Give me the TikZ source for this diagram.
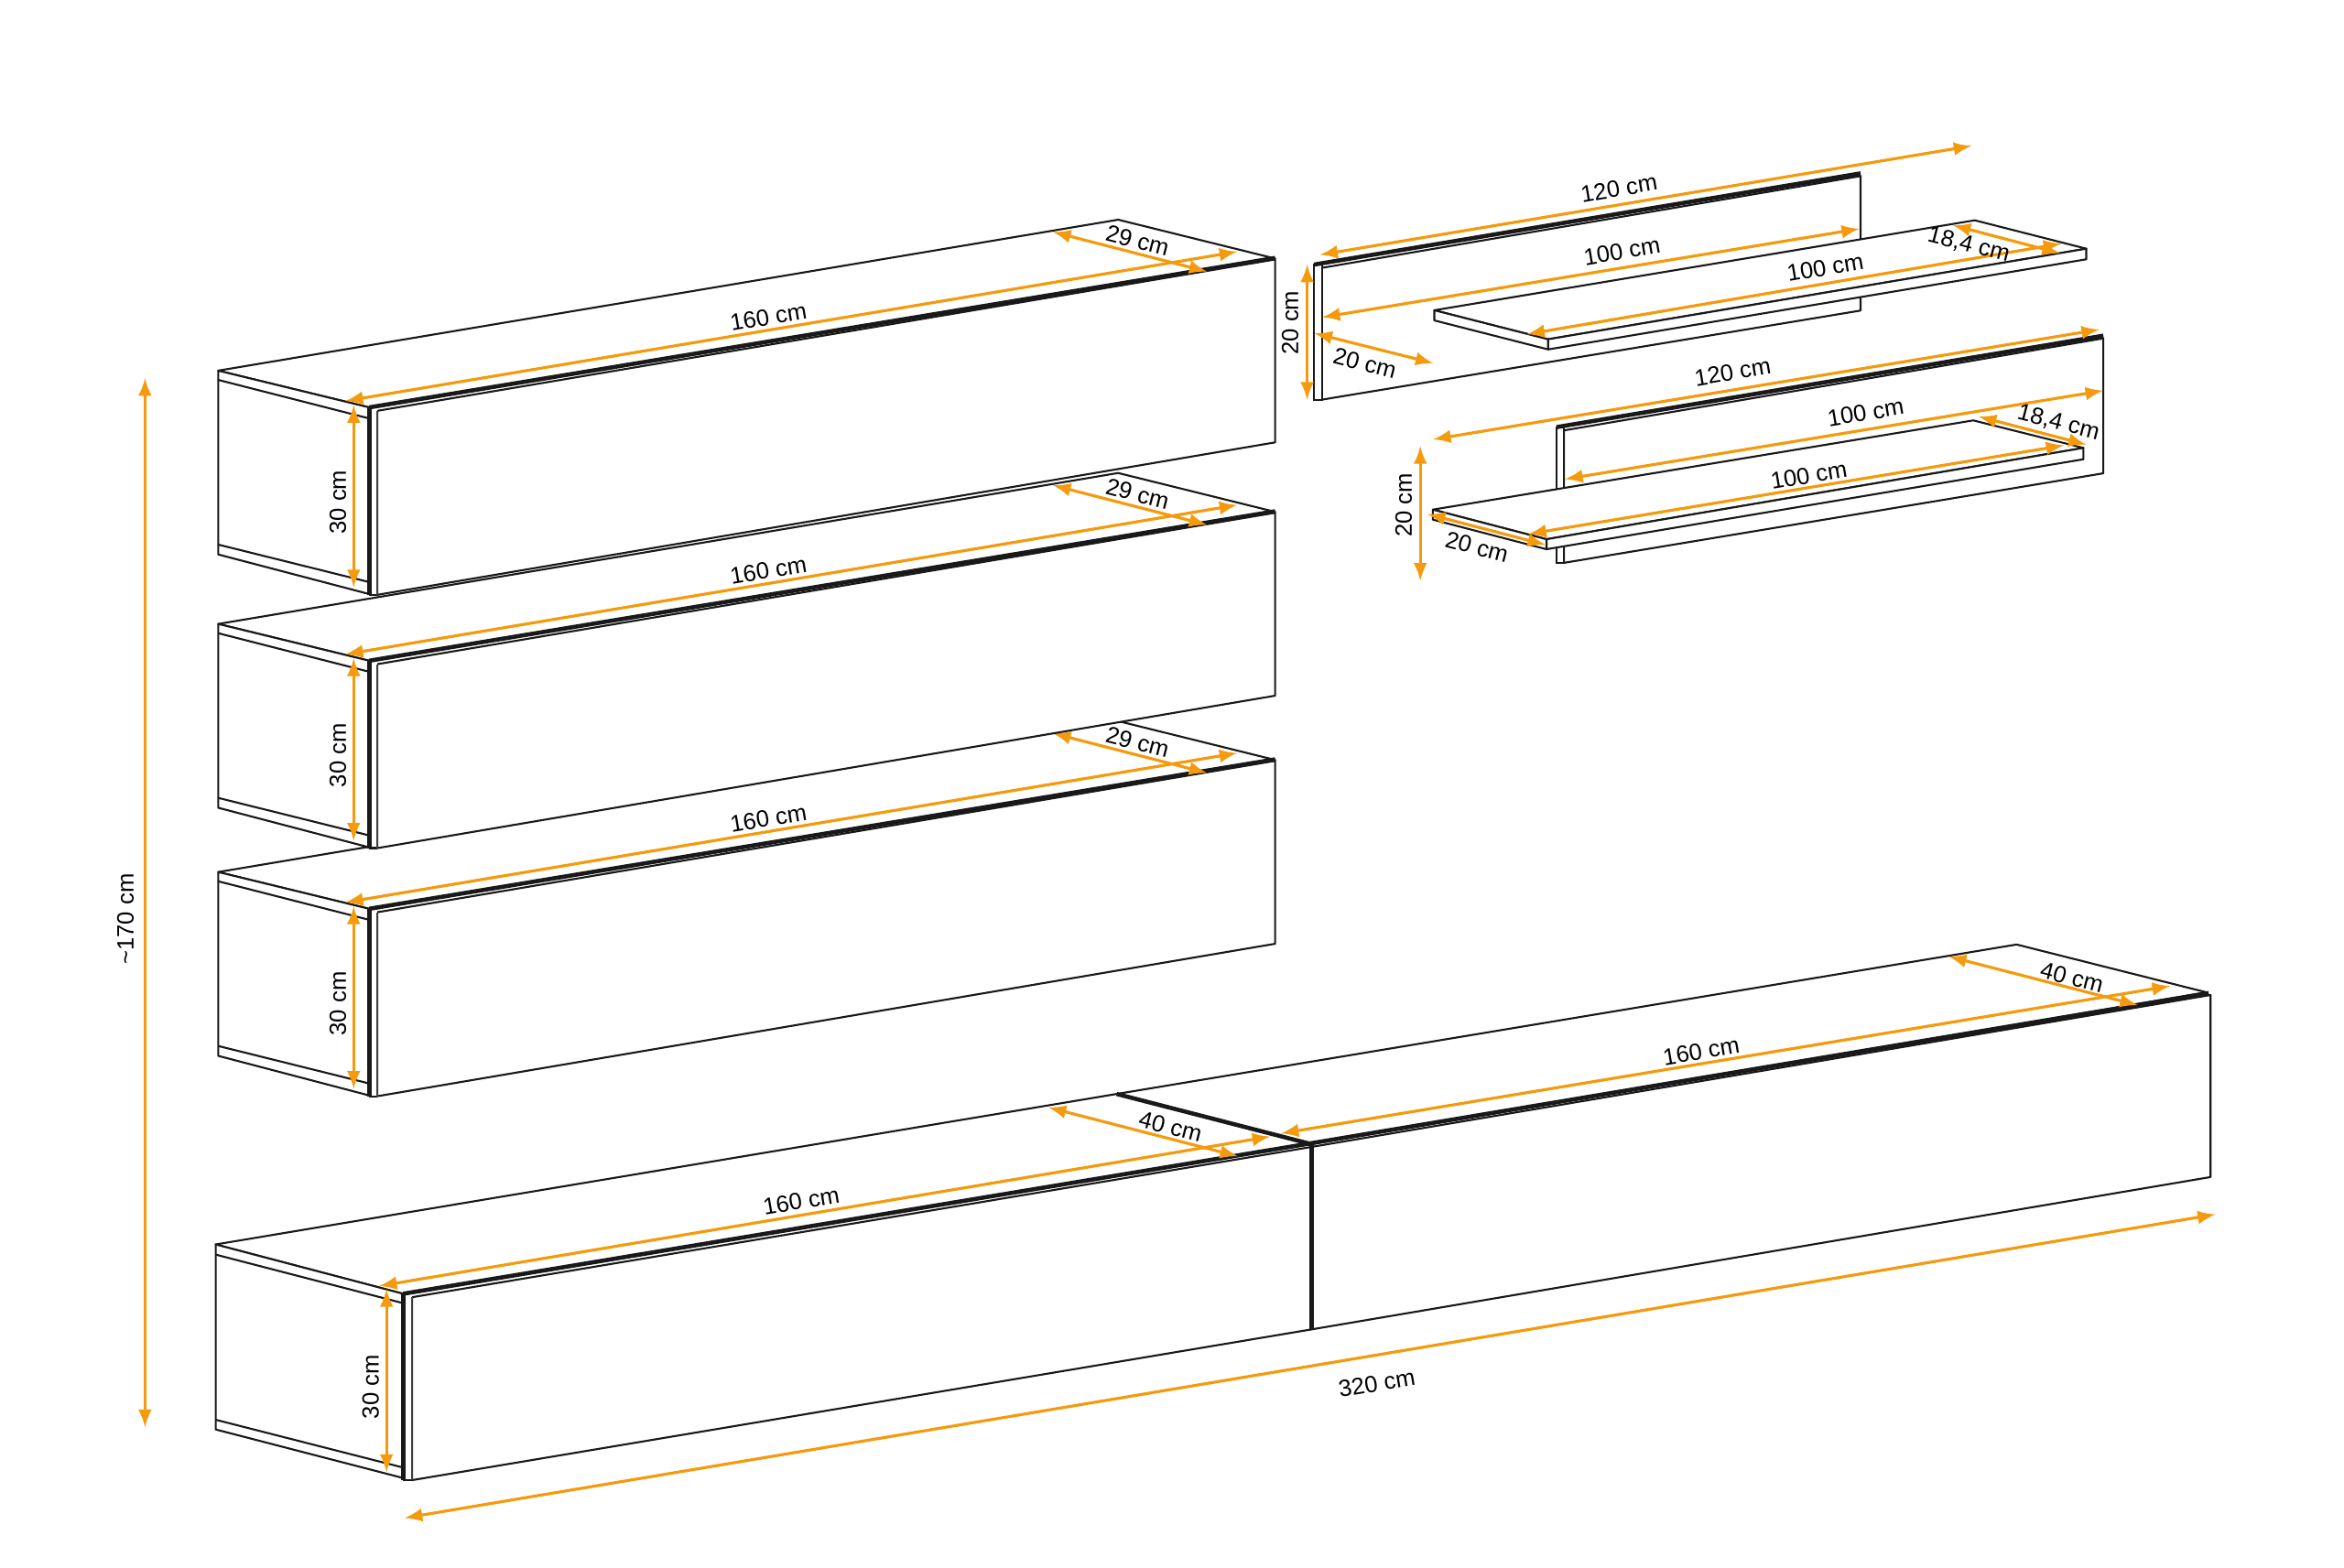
\documentclass[tikz,border=0pt]{standalone}
\usepackage{fontspec}
\setmainfont{Liberation Sans}
\begin{document}
\begin{tikzpicture}[x=0.016327cm,y=-0.016327cm]
% Styles
\tikzstyle{cadre}=[line width=0.6pt,black!90,line join=round,fill=white]
\tikzstyle{trait}=[line width=0.6pt,black!90]
\tikzstyle{arete}=[line width=1.3pt,black!90]
\tikzstyle{liseret}=[line width=0.6pt,black!75]
\tikzstyle{fleche}=[<->,>=latex,line width=0.9pt,color=cote]
\tikzstyle{etiquette}=[font=\fontsize{7.3}{9}\selectfont,inner sep=0pt,text=black]
\definecolor{cote}{HTML}{F59A0C}
% Angles des textes
\def\Long{9.6}
\def\Prof{-14.5}
% Cadre de l'image
\useasboundingbox (0,0) rectangle (1568,1048.6);
% Caisson suspendu : nom, décalage vertical
\def\Caisson#1#2{
\begin{scope}[shift={(0,#2)}]
\draw[cadre] (146,248) -- (748,147) -- (853,173) -- (247,272.6) -- cycle;
\draw[cadre] (146,248) -- (146,371) -- (247,397.5) -- (247,272.6) -- cycle;
\draw[trait] (146,254.2) -- (247,280);
\draw[trait] (146,364.4) -- (247,389.5);
\draw[cadre] (252.4,274.9) -- (853,173.6) -- (853,296) -- (252.4,398) -- cycle;
\fill[white] (247,272.6) rectangle (252.4,398);
\draw[trait] (247,398) -- (252.4,398);
\draw[arete] (247,272.6) -- (247,398);
\draw[liseret] (252.4,274.9) -- (252.4,398);
\draw[arete] (247,272.6) -- (853,172.6);
% Cotes
\draw[fleche] (231,268.3) -- (827.6,168.4);
\draw[fleche] (704.4,155.2) -- (807.4,181.7);
\draw[fleche] (236.6,271) -- (236.6,393);
\node[etiquette,rotate=\Long] (long#1) at (514,212) {160 cm};
\node[etiquette,rotate=\Prof] (prof#1) at (761,161) {29 cm};
\node[etiquette,rotate=90] (haut#1) at (226,336) {30 cm};
\end{scope}
}
% Caissons du mur
\Caisson{C}{335.5}
\Caisson{B}{169.5}
\Caisson{A}{0}
% Meuble bas : partie droite
\draw[cadre] (747,732) -- (1349,632) -- (1476,664) -- (877,765.5) -- cycle;
\draw[cadre] (877,767.5) -- (1478.7,665.8) -- (1478.7,787.6) -- (877,889.6) -- cycle;
\draw[arete] (877,765) -- (1477.5,664.5);
% Meuble bas : partie gauche
\draw[cadre] (144.3,832.7) -- (747,732) -- (877,765.5) -- (269.7,865.7) -- cycle;
\draw[cadre] (144.3,832.7) -- (144.3,956.5) -- (269.7,989) -- (269.7,865.7) -- cycle;
\draw[trait] (144.3,839.5) -- (269.7,872);
\draw[trait] (144.3,950) -- (269.7,982);
\draw[cadre] (275.7,868) -- (877,767.5) -- (877,889.6) -- (275.7,990.4) -- cycle;
\fill[white] (269.7,865.7) rectangle (275.7,990.4);
\draw[trait] (269.7,990.4) -- (275.7,990.4);
\draw[arete] (269.7,865.7) -- (269.7,990.4);
\draw[liseret] (275.7,868) -- (275.7,990.4);
\draw[arete] (269.7,865.7) -- (877,765);
\draw[arete] (747,732) -- (877,765.5);
\draw[arete] (877.5,765.5) -- (877.5,889.6);
% Etagère du haut
\draw[cadre] (884.4,179.2) -- (1244.6,117.8) -- (1244.6,207.8) -- (884.4,267.4) -- cycle;
\fill[white] (879.2,177) rectangle (884.4,267.4);
\draw[trait] (879.2,177) rectangle (884.4,267.4);
\draw[arete] (879.2,177) -- (1244.6,116);
\draw[cadre] (959.5,207.6) -- (1321,147.4) -- (1395.6,166.4) -- (1035.6,227) -- cycle;
\draw[cadre] (1035.6,227) -- (1395.6,166.4) -- (1395.6,173.5) -- (1035.6,233.8) -- cycle;
\draw[cadre] (959.5,207.6) -- (1035.6,227) -- (1035.6,233.8) -- (959.5,214.4) -- cycle;
% Etagère du bas
\draw[cadre] (1046.2,288) -- (1407,226.4) -- (1407,316.7) -- (1046.2,376.6) -- cycle;
\fill[white] (1041.3,285.8) rectangle (1046.2,376.6);
\draw[trait] (1041.3,285.8) rectangle (1046.2,376.6);
\draw[arete] (1041.3,285.8) -- (1407,224.6);
\draw[cadre] (958.5,341) -- (1320,281.3) -- (1393.7,299.7) -- (1034.5,360.8) -- cycle;
\draw[cadre] (1034.5,360.8) -- (1393.7,299.7) -- (1393.7,307.3) -- (1034.5,367.5) -- cycle;
\draw[cadre] (958.5,341) -- (1034.5,360.8) -- (1034.5,367.5) -- (958.5,347.7) -- cycle;
% Cotes du meuble bas
\draw[fleche] (253.6,860.5) -- (849.6,760.5);
\draw[fleche] (701.3,741) -- (828,773.7);
\draw[fleche] (258.6,862.6) -- (258.6,985);
\draw[fleche] (270.7,1015.7) -- (1482,812.6);
\draw[fleche] (856.9,758.4) -- (1451.6,659.8);
\draw[fleche] (1303.5,640) -- (1430,672.6);
\draw[fleche] (97,253) -- (97,955);
% Cotes des étagères
\draw[fleche] (883,170.5) -- (1318.8,97.6);
\draw[fleche] (884.5,212.3) -- (1243.8,153.1);
\draw[fleche] (1021.4,223.6) -- (1378.8,163);
\draw[fleche] (1306.4,150.7) -- (1378,169.5);
\draw[fleche] (874.4,177) -- (874.4,267.5);
\draw[fleche] (879.3,223) -- (958.8,243);
\draw[fleche] (958.7,294) -- (1404.3,220.5);
\draw[fleche] (1046.9,320.6) -- (1406.9,261.4);
\draw[fleche] (1022.5,357.3) -- (1380.6,298);
\draw[fleche] (1323.6,278.7) -- (1395.6,297.5);
\draw[fleche] (950.1,298.5) -- (950.1,388.6);
\draw[fleche] (955,344) -- (1033.8,364.5);
% Textes du meuble bas
\node[etiquette,rotate=\Long] (longbg) at (536,803.5) {160 cm};
\node[etiquette,rotate=\Prof] (profbg) at (783,754) {40 cm};
\node[etiquette,rotate=\Long] (longbd) at (1138,703.5) {160 cm};
\node[etiquette,rotate=\Prof] (profbd) at (1386,654) {40 cm};
\node[etiquette,rotate=90] (hautb) at (248,928) {30 cm};
\node[etiquette,rotate=\Long] (total) at (921,925.5) {320 cm};
\node[etiquette,rotate=90] (hauteur) at (84,615) {\char126 170 cm};
% Textes des étagères
\node[etiquette,rotate=\Long] (panh) at (1083,126) {120 cm};
\node[etiquette,rotate=\Long] (intraH) at (1085,168) {100 cm};
\node[etiquette,rotate=\Long] (planh) at (1221,179) {100 cm};
\node[etiquette,rotate=\Prof] (profh) at (1317,164) {18,4 cm};
\node[etiquette,rotate=90] (verth) at (863,216) {20 cm};
\node[etiquette,rotate=\Prof] (fondh) at (913,243) {20 cm};
\node[etiquette,rotate=\Long] (panb) at (1159,249) {120 cm};
\node[etiquette,rotate=\Long] (intraB) at (1248,276) {100 cm};
\node[etiquette,rotate=\Long] (planb) at (1210,318) {100 cm};
\node[etiquette,rotate=\Prof] (profe) at (1377,283) {18,4 cm};
\node[etiquette,rotate=90] (vertb) at (939,338) {20 cm};
\node[etiquette,rotate=\Prof] (fondb) at (988,366) {20 cm};
\end{tikzpicture}
\end{document}
